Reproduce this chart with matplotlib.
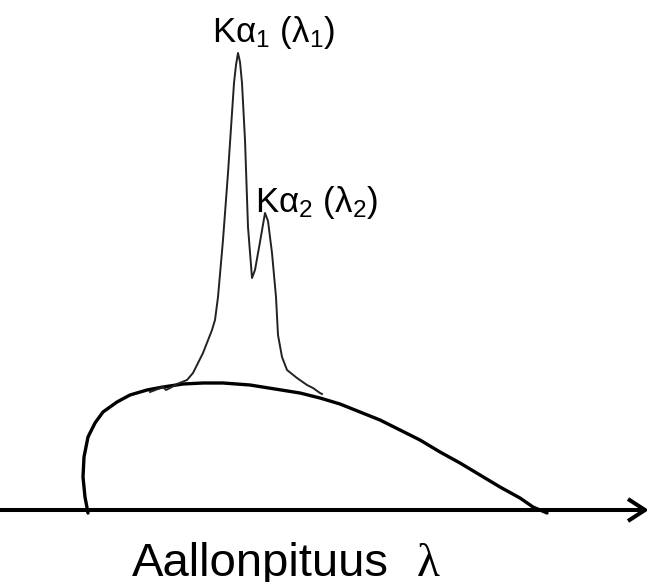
import numpy as np
import matplotlib.pyplot as plt

# continuous (bremsstrahlung) spectrum: wavelength, intensity
cont_x = [88, 85, 83, 84, 88, 95, 103, 117, 130, 147, 163, 183, 203, 223, 250, 275,
          300, 320, 340, 360, 380, 400, 420, 440, 460, 480, 500, 520, 533, 547]
cont_y = [-3, 13, 33, 53, 73, 87, 98, 108, 115, 120, 123, 126, 127, 127, 125, 121,
          117, 112, 106, 98, 90, 80, 70, 58, 47, 35, 23, 12, 3, -3]

# characteristic lines K-alpha1 / K-alpha2 on top of the continuum
peak_x = [150, 158, 163, 166, 170, 177, 187, 193, 203, 212, 215, 218, 223, 228, 234,
          236, 238, 240, 242, 245, 248, 252, 255, 260, 265, 268, 272, 276, 278, 282,
          287, 297, 307, 313, 320, 322]
peak_y = [118, 121, 123, 120, 122, 126, 130, 137, 157, 180, 190, 213, 270, 337, 427,
          445, 457, 448, 427, 370, 283, 232, 240, 268, 297, 289, 257, 213, 175, 153,
          140, 132, 125, 122, 117, 116]

labels = ["K\u03b1$_1$ (\u03bb$_1$)", "K\u03b1$_2$ (\u03bb$_2$)"]
label_pos = [(212, 468), (255, 298)]
xlabel = "Aallonpituus"

plt.rcParams['font.family'] = ['Liberation Sans', 'DejaVu Sans']
plt.rcParams['mathtext.fontset'] = 'custom'
plt.rcParams['mathtext.rm'] = 'Liberation Sans'
plt.rcParams['mathtext.it'] = 'Liberation Sans'

fig = plt.figure(figsize=(6.47, 5.82), dpi=100)
ax = fig.add_axes([0, 0, 1, 1])
ax.set_xlim(0, 647)
ax.set_ylim(-72, 510)
ax.axis('off')

# wavelength axis with open arrow head
ax.plot([0, 643], [0, 0], color='black', lw=2.9, solid_capstyle='butt')
ax.plot([628, 645, 628], [11, 0, -11], color='black', lw=2.9,
        solid_joinstyle='miter', solid_capstyle='butt')

ax.plot(cont_x, cont_y, color='black', lw=2.4, solid_capstyle='round',
        solid_joinstyle='round')
ax.plot(peak_x, peak_y, color='#222222', lw=1.4)

for txt, (x, y) in zip(labels, label_pos):
    ax.text(x, y, txt, fontsize=25, ha='left', va='baseline')

ax.text(132, -66, xlabel, fontsize=34, ha='left', va='baseline')
ax.text(417, -66, "\u03bb", fontsize=34, ha='left', va='baseline',
        family=['Liberation Serif', 'DejaVu Serif'])

fig.savefig('out.png', dpi=100)
